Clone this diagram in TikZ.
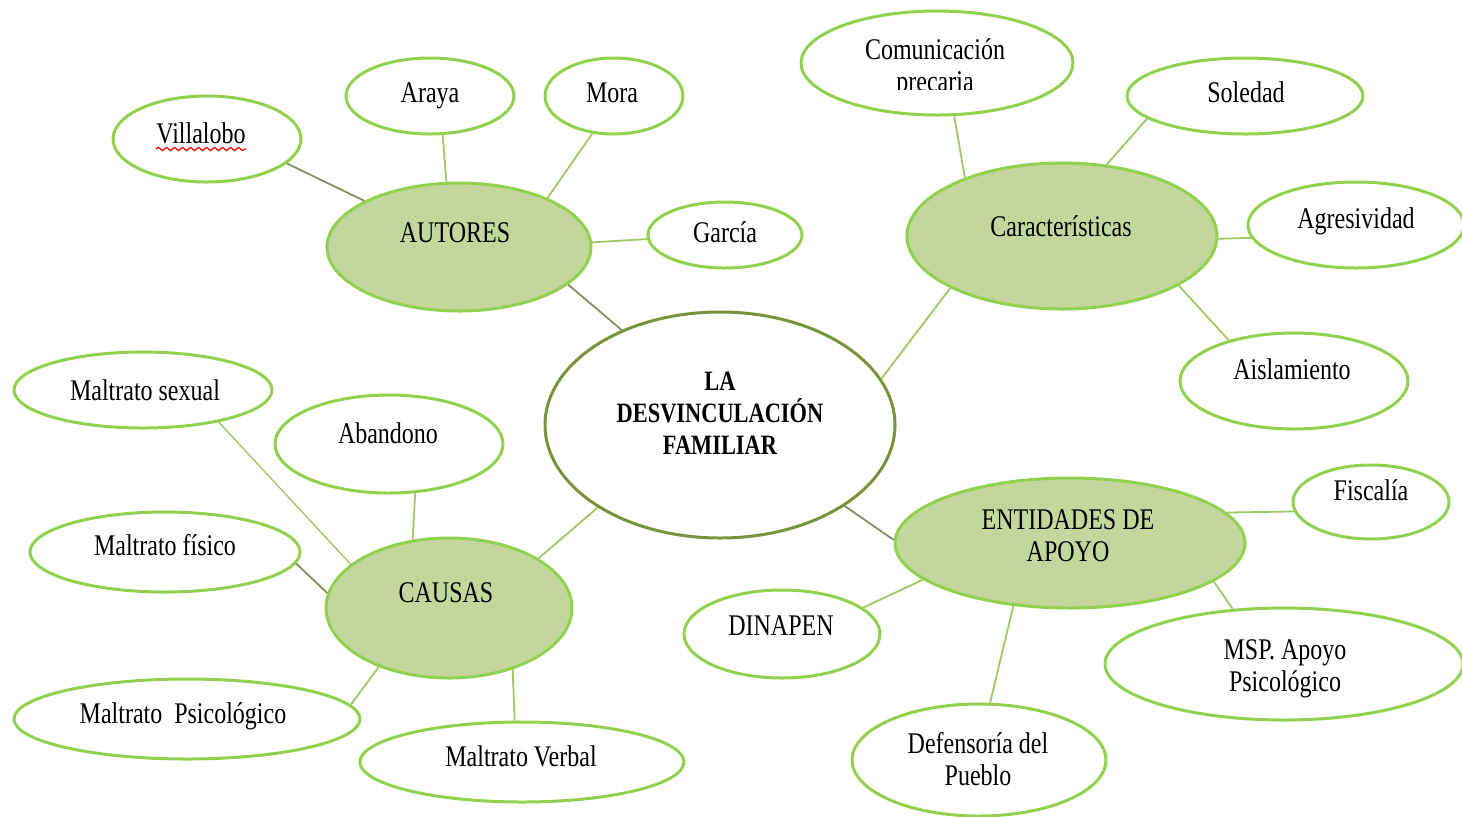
\documentclass[tikz,border=0pt]{standalone}
\usepackage{fontspec}
\setmainfont{Liberation Serif}[FakeStretch=0.8]
\usetikzlibrary{shapes.geometric,decorations.pathmorphing}
\definecolor{bordg}{RGB}{146,208,80}
\definecolor{fillg}{RGB}{195,214,155}
\definecolor{centg}{RGB}{119,147,60}
\definecolor{lineg}{RGB}{160,200,100}
\definecolor{lineo}{RGB}{130,145,95}
\tikzset{
  ell/.style={ellipse, draw=bordg, line width=1.5pt, inner sep=0pt, fill=white},
  mainell/.style={ell, fill=fillg},
  txt/.style={font=\fontsize{15}{16}\selectfont, inner sep=0pt, align=center, text height=0.66em, text depth=0pt},
  conn/.style={draw=lineg, line width=0.9pt},
  conno/.style={draw=lineo, line width=0.9pt},
}
\begin{document}
\begin{tikzpicture}[x=0.5pt,y=-0.5pt]
\useasboundingbox (0,0) rectangle (1462,816);
% central
\node[ellipse, draw=centg, line width=1.5pt, fill=white, inner sep=0pt, minimum width=175pt, minimum height=113pt] (cen) at (720,425) {};
\node[txt, font=\fontsize{14}{16}\selectfont\bfseries] (cent) at (720,448) {LA\\DESVINCULACIÓN\\FAMILIAR};
% autores
\node[mainell, minimum width=132pt, minimum height=64pt] (aut) at (459,247) {};
\node[txt] (autt) at (455,236) {AUTORES};
\node[ell, minimum width=94pt, minimum height=43pt] (vil) at (207,139) {};
\node[txt] (vilt) at (201,137) {Villalobo};
\draw[red, line width=0.6pt, decorate, decoration={snake, amplitude=0.8, segment length=4}] (vilt.south west) ++(0,5) coordinate (vu1) -- (vilt.south east |- vu1);
\node[ell, minimum width=84pt, minimum height=38pt] (ara) at (430,96) {};
\node[txt] (arat) at (430,96) {Araya};
\node[ell, minimum width=69pt, minimum height=38pt] (mor) at (614,96) {};
\node[txt] (mort) at (612,96) {Mora};
\node[ell, minimum width=77pt, minimum height=33pt] (gar) at (725,235) {};
\node[txt] (gart) at (725,236) {García};
% caracteristicas
\node[mainell, minimum width=155pt, minimum height=73pt] (car) at (1062,236) {};
\node[txt] (cart) at (1061,230) {Características};
\node[ell, minimum width=136pt, minimum height=52pt] (com) at (937,63) {};
\begin{scope}
\clip (790,0) rectangle (1090,89);
\node[txt] (comt) at (935,85) {Comunicación\\precaria};
\end{scope}
\node[ell, minimum width=118pt, minimum height=38pt] (sol) at (1245,96) {};
\node[txt] (solt) at (1246,96) {Soledad};
\node[ell, minimum width=108pt, minimum height=43pt] (agr) at (1356,225) {};
\node[txt] (agrt) at (1356,222) {Agresividad};
\node[ell, minimum width=114pt, minimum height=48pt] (ais) at (1294,381) {};
\node[txt] (aist) at (1292,373) {Aislamiento};
% entidades
\node[mainell, minimum width=175pt, minimum height=65pt] (ent) at (1070,543) {};
\node[txt] (entt) at (1068,555) {ENTIDADES DE\\APOYO};
\node[ell, minimum width=78pt, minimum height=37pt] (fis) at (1371,502) {};
\node[txt] (fist) at (1371,494) {Fiscalía};
\node[ell, minimum width=179pt, minimum height=56pt] (msp) at (1284,664) {};
\node[txt] (mspt) at (1285,685) {MSP. Apoyo\\Psicológico};
\node[ell, minimum width=127pt, minimum height=56pt] (def) at (979,760) {};
\node[txt] (deft) at (978,779) {Defensoría del\\Pueblo};
\node[ell, minimum width=98pt, minimum height=44pt] (din) at (782,634) {};
\node[txt] (dint) at (781,629) {DINAPEN};
% causas
\node[mainell, minimum width=123pt, minimum height=70pt] (cau) at (449,608) {};
\node[txt] (caut) at (446,596) {CAUSAS};
\node[ell, minimum width=129pt, minimum height=38pt] (mse) at (143,390) {};
\node[txt] (mset) at (145,394) {Maltrato sexual};
\node[ell, minimum width=114pt, minimum height=49pt] (aba) at (389,444) {};
\node[txt] (abat) at (388,437) {Abandono};
\node[ell, minimum width=135pt, minimum height=40pt] (mfi) at (165,552) {};
\node[txt] (mfit) at (165,549) {Maltrato físico};
\node[ell, minimum width=173pt, minimum height=40pt] (mps) at (187,719) {};
\node[txt] (mpst) at (183,717) {Maltrato\ \ Psicológico};
\node[ell, minimum width=162pt, minimum height=40pt] (mve) at (522,762) {};
\node[txt] (mvet) at (521,760) {Maltrato Verbal};
% connectors
\draw[conno] (vil.-17) -- (aut.154);
\draw[conn] (ara.-72) -- (aut.101);
\draw[conn] (mor.-120) -- (aut.29);
\draw[conn] (gar.-177) -- (aut.2);
\draw[conno] (aut.-19) -- (cen.136);
\draw[conn] (cen.16) -- (car.-155);
\draw[conn] (com.-72) -- (car.149);
\draw[conn] (sol.-167) -- (car.58);
\draw[conn] (agr.-173) -- (car.-1);
\draw[conn] (ais.148) -- (car.-23);
\draw[conno] (cen.-33) -- (ent.179);
\draw[conn] (fis.-173) -- (ent.11);
\draw[conn] (msp.133) -- (ent.-15);
\draw[conn] (def.79) -- (ent.-132);
\draw[conn] (din.18) -- (ent.-166);
\draw[conn] (cen.-146) -- (cau.29);
\draw[conn, line width=0.7pt] (mse.-23) -- (cau.156);
\draw[conn] (aba.-62) -- (cau.118);
\draw[conno] (mfi.-5) -- (cau.173);
\draw[conn] (mps.5) -- (cau.-140);
\draw[conn] (mve.100) -- (cau.-44);
\end{tikzpicture}
\end{document}
